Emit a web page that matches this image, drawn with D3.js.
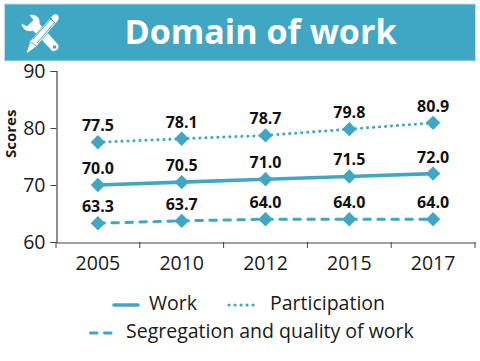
<!DOCTYPE html>
<html>
<head>
<meta charset="utf-8">
<script src="https://cdn.jsdelivr.net/npm/d3@7"></script>
<style>
  html, body { margin: 0; padding: 0; background: #fff; }
  text { font-family: "Open Sans", sans-serif; fill: #1a1a1a; }
</style>
</head>
<body>
<div id="chart"></div>
<script>
const years = ["2005", "2010", "2012", "2015", "2017"];
const yTicks = [60, 70, 80, 90];
const work = [70.0, 70.5, 71.0, 71.5, 72.0];
const participation = [77.5, 78.1, 78.7, 79.8, 80.9];
const segregation = [63.3, 63.7, 64.0, 64.0, 64.0];
const seriesNames = ["Work", "Participation", "Segregation and quality of work"];

const width = 480;
const height = 361;
const blue = "#3fa7c4";
const margin = {top: 71, right: 5, bottom: 119, left: 56};

const svg = d3.select("#chart").append("svg")
  .attr("width", width)
  .attr("height", height)
  .style("display", "block");

// Title banner
svg.append("rect")
  .attr("x", 4.5).attr("y", 4).attr("width", 471).attr("height", 57)
  .attr("fill", blue)
  .attr("stroke", "#bfe0ea");

svg.append("text")
  .attr("x", 260.5).attr("y", 44)
  .attr("text-anchor", "middle")
  .style("font-size", "34.1px")
  .style("font-weight", 700)
  .style("fill", "#fff")
  .text("Domain of work");

// Wrench and pencil icon
const icon = svg.append("g");
icon.append("path")
  .attr("d", "M21 23 L27 26 L33 20 L29 15 C35 13 41 17 40 24 L58 44 C60 47 58 51 55 51 C53 52 51 51 50 49 L33 31 C26 33 22 29 21 23 Z")
  .attr("fill", "#fff")
  .attr("stroke", blue)
  .attr("stroke-width", 0.8);
icon.append("circle")
  .attr("cx", 54.5).attr("cy", 47).attr("r", 1.8).attr("fill", blue);
icon.append("path")
  .attr("d", "M26 54 L30 41 L51 17 C53 14 56 13 58 15 C60 17 59 20 57 22 L36 47 Z")
  .attr("fill", "#fff")
  .attr("stroke", blue)
  .attr("stroke-width", 0.8);
icon.append("path")
  .attr("d", "M31 42 L36 46 M33 39 L52 18 M37 43 L55 22 M49 17 L56 24")
  .attr("fill", "none")
  .attr("stroke", blue)
  .attr("stroke-width", 1);

// Scales
const xScale = d3.scaleBand()
  .domain(years)
  .range([margin.left, width - margin.right]);

const yScale = d3.scaleLinear()
  .domain([60, 90])
  .range([height - margin.bottom, margin.top]);

// Axes
const xAxis = svg.append("g")
  .attr("transform", `translate(0,${height - margin.bottom + 0.5})`)
  .call(d3.axisBottom(xScale).tickSize(0));
xAxis.select(".domain").attr("stroke", "#444").attr("stroke-width", 1.2);
xAxis.selectAll("text")
  .attr("y", 13.5)
  .attr("dy", "0.71em")
  .style("font-size", "19.5px");

// ticks sit on the band edges, not the centres
svg.append("g")
  .selectAll("line")
  .data(d3.range(years.length + 1))
  .join("line")
  .attr("x1", i => xScale.range()[0] + i * xScale.step())
  .attr("x2", i => xScale.range()[0] + i * xScale.step())
  .attr("y1", height - margin.bottom)
  .attr("y2", height - margin.bottom + 6)
  .attr("stroke", "#444")
  .attr("stroke-width", 1);

const yAxis = svg.append("g")
  .attr("transform", `translate(${margin.left + 0.5},0)`)
  .call(d3.axisLeft(yScale).tickValues(yTicks).tickSize(6).tickPadding(5));
yAxis.select(".domain").attr("stroke", "#444").attr("stroke-width", 1.2);
yAxis.selectAll(".tick line").attr("stroke", "#444");
yAxis.selectAll("text").style("font-size", "19.5px");

svg.append("text")
  .attr("transform", "translate(16,158) rotate(-90)")
  .attr("text-anchor", "start")
  .style("font-size", "15px")
  .style("font-weight", 700)
  .text("Scores");

// Lines
const line = d3.line()
  .x((d, i) => xScale(years[i]) + xScale.bandwidth() / 2)
  .y(d => yScale(d));

const series = [
  {values: work, width: 3.6, dash: null, cap: "butt"},
  {values: participation, width: 3, dash: "0.1,5.9", cap: "round"},
  {values: segregation, width: 3, dash: "6.5,7.5", cap: "round"}
];

series.forEach(s => {
  svg.append("path")
    .datum(s.values)
    .attr("fill", "none")
    .attr("stroke", blue)
    .attr("stroke-width", s.width)
    .attr("stroke-dasharray", s.dash)
    .attr("stroke-linecap", s.cap)
    .attr("d", line);

  svg.append("g")
    .selectAll("path")
    .data(s.values)
    .join("path")
    .attr("d", d3.symbol(d3.symbolSquare, 104))
    .attr("transform", (d, i) => `translate(${xScale(years[i]) + xScale.bandwidth() / 2},${yScale(d)}) rotate(45)`)
    .attr("fill", blue);

  svg.append("g")
    .selectAll("text")
    .data(s.values)
    .join("text")
    .attr("x", (d, i) => xScale(years[i]) + xScale.bandwidth() / 2)
    .attr("y", d => yScale(d) - 11)
    .attr("text-anchor", "middle")
    .style("font-size", "16px")
    .style("font-weight", 700)
    .style("fill", "#111")
    .text(d => d.toFixed(1));
});

// Legend
const legend = [
  {name: seriesNames[0], x1: 114, x2: 138, tx: 149, y: 305, s: series[0]},
  {name: seriesNames[1], x1: 229, x2: 258, tx: 270, y: 305, s: series[1]},
  {name: seriesNames[2], x1: 90.5, x2: 113, tx: 126, y: 333, s: series[2]}
];

legend.forEach(l => {
  svg.append("line")
    .attr("x1", l.x1).attr("x2", l.x2)
    .attr("y1", l.y).attr("y2", l.y)
    .attr("stroke", blue)
    .attr("stroke-width", l.s.width)
    .attr("stroke-dasharray", l.s.dash)
    .attr("stroke-linecap", l.s.cap === "butt" ? "round" : l.s.cap);

  svg.append("text")
    .attr("x", l.tx).attr("y", l.y - 1.5)
    .attr("dy", "0.35em")
    .style("font-size", "19.5px")
    .text(l.name);
});
</script>
</body>
</html>
